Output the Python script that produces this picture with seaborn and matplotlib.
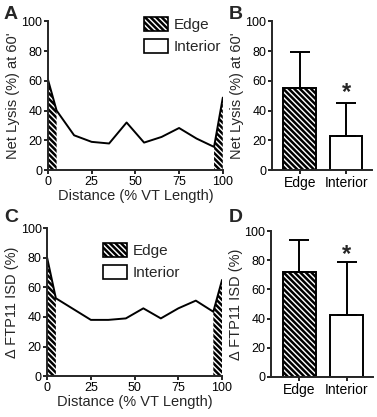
import numpy as np
import pandas as pd
import matplotlib
matplotlib.use("Agg")
import matplotlib.pyplot as plt
from matplotlib.patches import Patch
import seaborn as sns

# profile along the VT (% of length)
distance = [0, 5, 15, 25, 35, 45, 55, 65, 75, 85, 95, 100]
lysis = [61, 40, 23.4, 19, 17.9, 32, 18.5, 22.3, 28.3, 21.2, 15.6, 48.7]
ftp11 = [80, 52.6, 45.3, 38, 38, 39, 45.8, 39, 45.8, 51, 43.5, 65]

regions = ["Edge", "Interior"]
lysis_mean = [55.5, 23]
lysis_sd = [24, 22]
ftp11_mean = [72, 42.5]
ftp11_sd = [22, 36]

sns.set_style("ticks")
plt.rcParams["font.family"] = ["Liberation Sans", "DejaVu Sans"]
plt.rcParams["hatch.linewidth"] = 1.8
plt.rcParams["axes.linewidth"] = 1.4
HATCH = "\\\\\\\\\\\\"

fig = plt.figure(figsize=(3.77, 4.17), dpi=100)
axA = fig.add_axes([0.127, 0.592, 0.464, 0.357])
axB = fig.add_axes([0.721, 0.592, 0.265, 0.357])
axC = fig.add_axes([0.125, 0.098, 0.464, 0.355])
axD = fig.add_axes([0.719, 0.096, 0.27, 0.350])


def profile(ax, y, ylabel, legend_pos):
    df = pd.DataFrame({"d": distance, "v": y})
    sns.lineplot(data=df, x="d", y="v", ax=ax, color="black", lw=1.4)
    d = np.array(distance)
    v = np.array(y)
    left = d <= 5
    right = d >= 95
    ax.fill_between(d[left], 0, v[left], facecolor="white", edgecolor="black",
                    hatch=HATCH, lw=0)
    ax.fill_between(d[right], 0, v[right], facecolor="white", edgecolor="black",
                    hatch=HATCH, lw=0)
    ax.set_xlim(0, 100)
    ax.set_ylim(0, 100)
    ax.set_xticks([0, 25, 50, 75, 100])
    ax.set_yticks([0, 20, 40, 60, 80, 100])
    ax.set_xlabel("Distance (% VT Length)", fontsize=10.5, labelpad=1)
    ax.set_ylabel(ylabel, fontsize=10.5, labelpad=1)
    handles = [Patch(facecolor="white", edgecolor="black", hatch=HATCH, lw=1.2),
               Patch(facecolor="white", edgecolor="black", lw=1.2)]
    ax.legend(handles, regions, loc="upper left", bbox_to_anchor=legend_pos,
              frameon=False, fontsize=11, handlelength=1.55, handleheight=1.05,
              handletextpad=0.4, labelspacing=0.45, borderpad=0, borderaxespad=0)


def bars(ax, means, sds, ylabel, star_y):
    df = pd.DataFrame({"region": regions, "v": means})
    sns.barplot(data=df, x="region", y="v", ax=ax, width=0.7,
                palette=["white", "white"], hue="region", legend=False,
                edgecolor="black", linewidth=1.4)
    ax.patches[0].set_hatch(HATCH)
    ax.errorbar([0, 1], means, yerr=[[0, 0], sds], fmt="none", ecolor="black",
                elinewidth=1.4, capsize=7, capthick=1.4)
    ax.text(1, star_y, "*", ha="center", va="center", fontsize=17, fontweight="bold")
    ax.set_xlim(-0.6, 1.55)
    ax.set_ylim(0, 100)
    ax.set_yticks([0, 20, 40, 60, 80, 100])
    ax.set_xlabel("")
    ax.set_ylabel(ylabel, fontsize=10.5, labelpad=1)


profile(axA, lysis, "Net Lysis (%) at 60'", (0.55, 1.03))
profile(axC, ftp11, "\u0394 FTP11 ISD (%)", (0.32, 0.90))
bars(axB, lysis_mean, lysis_sd, "Net Lysis (%) at 60'", 52)
bars(axD, ftp11_mean, ftp11_sd, "\u0394 FTP11 ISD (%)", 84)

for ax in (axA, axB, axC, axD):
    sns.despine(ax=ax)
    ax.tick_params(axis="both", direction="out", length=3, width=1.2, pad=1,
                   labelsize=9, colors="black")
    ax.tick_params(axis="x", labelsize=10 if ax in (axB, axD) else 9)

for lbl, x, y in [("A", 0.01, 0.985), ("B", 0.606, 0.985),
                  ("C", 0.01, 0.5), ("D", 0.606, 0.5)]:
    fig.text(x, y, lbl, fontsize=14, fontweight="bold", va="top", ha="left")

fig.savefig("out.png", dpi=100)
